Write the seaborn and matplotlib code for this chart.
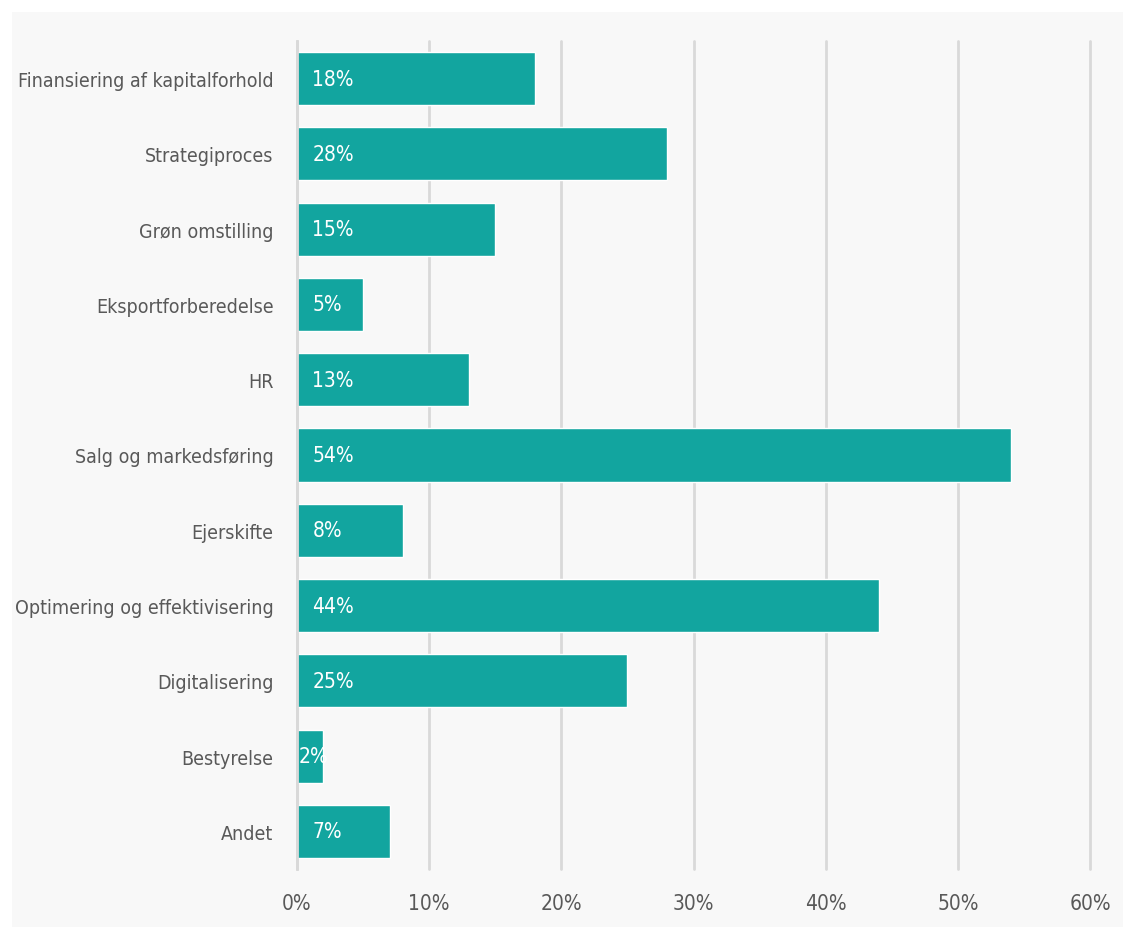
import matplotlib
matplotlib.use("Agg")
import matplotlib.pyplot as plt
from matplotlib import font_manager
from matplotlib.patches import Rectangle
from matplotlib.ticker import FuncFormatter
import pandas as pd
import seaborn as sns

categories = [
    "Finansiering af kapitalforhold",
    "Strategiproces",
    "Grøn omstilling",
    "Eksportforberedelse",
    "HR",
    "Salg og markedsføring",
    "Ejerskifte",
    "Optimering og effektivisering",
    "Digitalisering",
    "Bestyrelse",
    "Andet",
]
shares = [18, 28, 15, 5, 13, 54, 8, 44, 25, 2, 7]
x_ticks = [0, 10, 20, 30, 40, 50, 60]

df = pd.DataFrame({"Område": categories, "Andel": shares})

sns.set_theme(style="white")

# prefer a narrow face when one is installed
installed = {f.name for f in font_manager.fontManager.ttflist}
narrow = [n for n in ["Liberation Sans Narrow", "DejaVu Sans Condensed"] if n in installed]
plt.rcParams["font.family"] = narrow + ["DejaVu Sans"]
if not narrow:
    plt.rcParams["font.stretch"] = "condensed"
label_size = 16 if narrow else 14

BAR = "#12a59f"
TEXT = "#595959"
GRID = "#d9d9d9"

fig = plt.figure(figsize=(11.23, 9.28), dpi=100, facecolor="white")
fig.patches.append(Rectangle((12 / 1123, 0), 1 - 12 / 1123, 1 - 13 / 928,
                             transform=fig.transFigure, facecolor="#f8f8f8",
                             edgecolor="none", zorder=-10))
ax = fig.add_axes([297 / 1123, 58 / 928, (1090 - 297) / 1123, (886 - 58) / 928])
ax.set_facecolor("none")

sns.barplot(data=df, x="Andel", y="Område", orient="h", color=BAR,
            saturation=1, width=0.705, ax=ax, zorder=3)

ax.set_xlim(0, 60)
ax.set_ylim(len(categories) - 0.5, -0.5)
ax.set_xticks(x_ticks)
ax.xaxis.set_major_formatter(FuncFormatter(lambda v, _: f"{v:.0f}%"))
ax.grid(axis="x", color=GRID, linewidth=2, zorder=0)
for gl in ax.get_xgridlines():
    gl.set_clip_on(False)
ax.grid(axis="y", visible=False)
for s in ["top", "right", "bottom"]:
    ax.spines[s].set_visible(False)
ax.spines["left"].set_color(GRID)
ax.spines["left"].set_linewidth(2)
ax.spines["left"].set_zorder(4)
ax.set_xlabel("")
ax.set_ylabel("")
ax.tick_params(axis="x", length=0, pad=17, labelsize=label_size + 1, labelcolor=TEXT)
ax.tick_params(axis="y", length=0, pad=17, labelsize=label_size, labelcolor=TEXT)

for i, v in enumerate(shares):
    offset = 11 if v >= 4 else 1
    ax.annotate(f"{v}%", xy=(0, i), xytext=(offset, 0), textcoords="offset points",
                ha="left", va="center", color="white", fontsize=label_size + 1,
                zorder=5, clip_on=False)

fig.savefig("out.png", dpi=100, facecolor="white")
